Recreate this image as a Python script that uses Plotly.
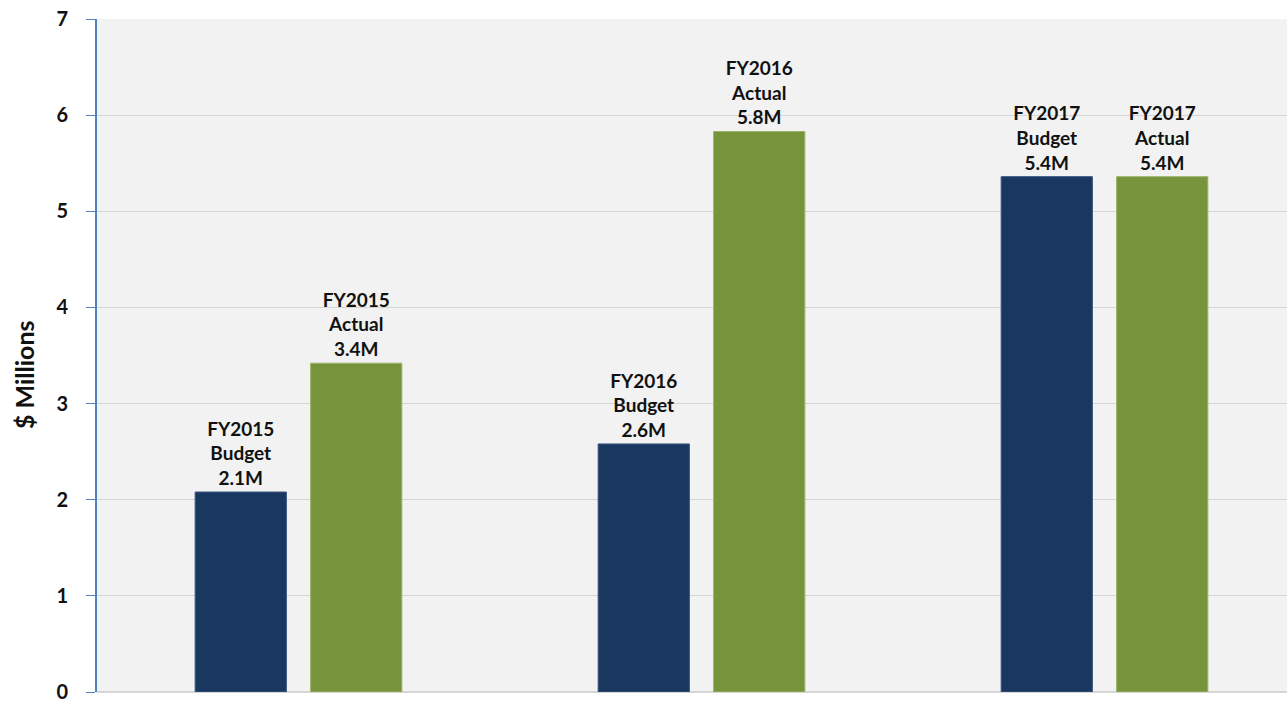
import plotly.graph_objects as go

categories = ["FY2015", "FY2016", "FY2017"]
budget = [2.08, 2.58, 5.36]
actual = [3.42, 5.83, 5.36]
budget_labels = ["FY2015<br>Budget<br>2.1M", "FY2016<br>Budget<br>2.6M", "FY2017<br>Budget<br>5.4M"]
actual_labels = ["FY2015<br>Actual<br>3.4M", "FY2016<br>Actual<br>5.8M", "FY2017<br>Actual<br>5.4M"]
y_ticks = [0, 1, 2, 3, 4, 5, 6, 7]
y_title = "$ Millions"

FONT = "Lato, 'Open Sans', sans-serif"
label_font = dict(family=FONT, size=19, color="#111111", weight="bold")

fig = go.Figure()
fig.add_trace(go.Bar(
    x=categories, y=budget, name="Budget",
    marker=dict(color="#1A3760", line=dict(color="#3a5480", width=1)),
    text=budget_labels, textposition="outside", textfont=label_font,
    cliponaxis=False,
))
fig.add_trace(go.Bar(
    x=categories, y=actual, name="Actual",
    marker=dict(color="#77933C", line=dict(color="#9ab36a", width=1)),
    text=actual_labels, textposition="outside", textfont=label_font,
    cliponaxis=False,
))

fig.update_layout(
    width=1287, height=702,
    margin=dict(l=97, r=0, t=19, b=10),
    paper_bgcolor="white",
    plot_bgcolor="#F2F2F2",
    barmode="group",
    bargap=0.427,
    bargroupgap=0.21,
    showlegend=False,
)
fig.add_annotation(
    text=y_title, xref="paper", yref="paper", x=-0.0613, y=0.471,
    textangle=-90, showarrow=False, xanchor="center", yanchor="middle",
    font=dict(family=FONT, size=25, color="#111111", weight="bold"),
)
fig.update_xaxes(
    range=[-0.5, -0.5 + 1190 / 403],
    showticklabels=False, ticks="", showgrid=False,
    showline=False, zeroline=False,
)
fig.update_yaxes(
    range=[0, 7], tickvals=y_ticks,
    showgrid=True, gridcolor="#D6D6D6", gridwidth=1,
    zeroline=True, zerolinecolor="#D6D6D6", zerolinewidth=2,
    showline=True, linecolor="#4F81BD", linewidth=2,
    ticks="outside", ticklen=9, tickcolor="#4F81BD", tickwidth=1,
    ticklabelstandoff=14,
    ticklabeloverflow="allow",
    tickfont=dict(family=FONT, size=20, color="#111111", weight="bold"),
)

fig.write_html("out.html")
